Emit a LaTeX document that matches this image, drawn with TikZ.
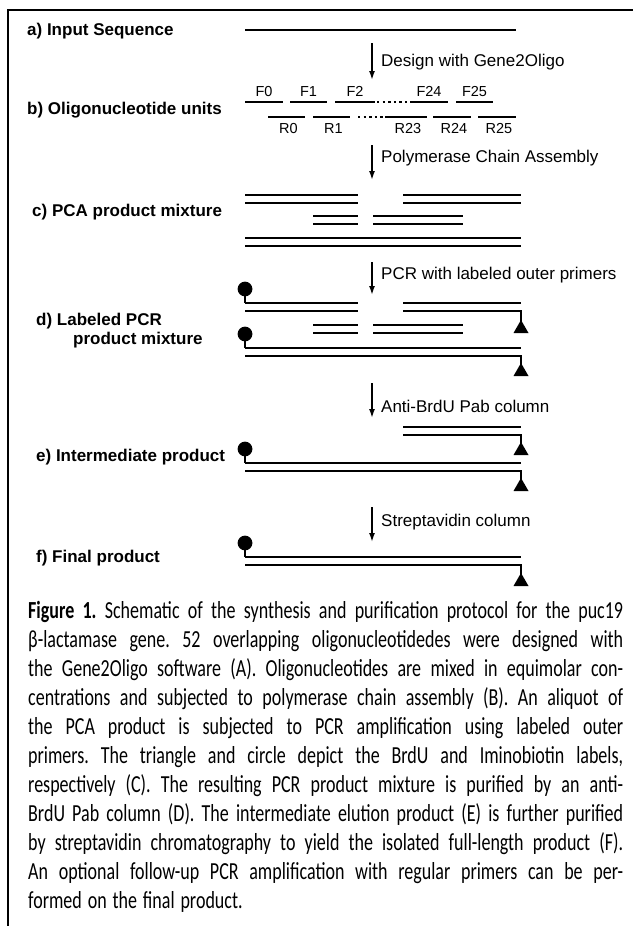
\documentclass[tikz,border=0pt]{standalone}
\usepackage{fontspec}
\setmainfont{Liberation Sans}
\newfontfamily\capfont[FakeStretch=0.735]{Carlito}
\usepackage{xcolor}
\usepackage{tikz}
\usetikzlibrary{arrows.meta,positioning,calc}
\definecolor{figInk}{HTML}{000000}
\definecolor{figPaper}{HTML}{FFFFFF}
\newcommand{\capline}[1]{\hbox to 595pt{%
  \spaceskip=0.24em plus 1.5em minus 0.08em\xspaceskip=\spaceskip #1}}
\tikzset{
  % Row label (bold, at the left)
  rowlbl/.style={anchor=west,inner sep=0pt,
    font=\fontsize{17}{19}\selectfont\bfseries,text=figInk},
  % Step label beside an arrow
  steplbl/.style={anchor=west,inner sep=0pt,
    font=\fontsize{17}{19}\selectfont,text=figInk},
  % Oligo name (F0, R0, ...)
  oligo/.style={inner sep=0pt,font=\fontsize{14.5}{16}\selectfont,text=figInk},
  % DNA strand
  strand/.style={line width=2.2pt,color=figInk},
  gapdots/.style={strand,dash pattern=on 2.4pt off 3.2pt},
  % Step arrow
  arr/.style={-{Latex[length=9pt,width=6pt]},line width=1.6pt,color=figInk},
  % Caption under the scheme
  capbox/.style={anchor=north west,inner sep=0pt,text width=595pt,
    font=\capfont\fontsize{24.5}{29}\selectfont,text=figInk},
  % End labels: circle = iminobiotin, triangle = BrdU
  biotin/.pic={\draw[strand] (0,0) -- (0,-11);
    \fill[figInk] (0,-14) circle (7.4);},
  brdu/.pic={\fill[figInk] (0,0) -- (7.5,13) -- (-7.5,13) -- cycle;},
}

\begin{document}
\begin{tikzpicture}[x=1pt,y=-1pt]
  \useasboundingbox[fill=figPaper] (0,0) rectangle (633,926);
  \draw[line width=1.3pt,figInk] (8,926) -- (8,10) -- (633,10);

  % row labels
  \node[rowlbl] (lblA) at (27,31) {a) Input Sequence};
  \node[rowlbl] (lblB) at (27,110) {b) Oligonucleotide units};
  \node[rowlbl] (lblC) at (32,212) {c) PCA product mixture};
  \node[rowlbl,align=left] (lblD) at (36,331)
    {d) Labeled PCR\\\hspace*{37pt}product mixture};
  \node[rowlbl] (lblE) at (36,457) {e) Intermediate product};
  \node[rowlbl] (lblF) at (36,558) {f) Final product};

  % step arrows
  \coordinate (s1a) at (372,43);  \coordinate (s1b) at (372,80);
  \coordinate (s2a) at (372,145); \coordinate (s2b) at (372,180);
  \coordinate (s3a) at (372,262); \coordinate (s3b) at (372,295);
  \coordinate (s4a) at (372,383); \coordinate (s4b) at (372,418);
  \coordinate (s5a) at (372,507); \coordinate (s5b) at (372,542);
  \draw[arr] (s1a) -- (s1b);
  \draw[arr] (s2a) -- (s2b);
  \draw[arr] (s3a) -- (s3b);
  \draw[arr] (s4a) -- (s4b);
  \draw[arr] (s5a) -- (s5b);
  \node[steplbl] (step1) at (381,62) {Design with Gene2Oligo};
  \node[steplbl] (step2) at (381,158) {Polymerase Chain Assembly};
  \node[steplbl] (step3) at (381,275) {PCR with labeled outer primers};
  \node[steplbl] (step4) at (381,406) {Anti-BrdU Pab column};
  \node[steplbl] (step5) at (381,522) {Streptavidin column};

  % a) input sequence
  \draw[strand] (245,30) -- (516,30);

  % b) oligonucleotide units
  \foreach \xa/\xb/\nm in {245/283/F0,290/327/F1,335/375/F2,410/448/F24,456/493/F25}
    \draw[strand] (\xa,102) -- node[oligo,above=4pt] (\nm) {\nm} (\xb,102);
  \foreach \xa/\xb/\nm in {268/305/R0,313/350/R1,385/427/R23,433/471/R24,478/516/R25}
    \draw[strand] (\xa,117) -- node[oligo,below=5pt,xshift=2pt] (\nm) {\nm} (\xb,117);
  \draw[gapdots] (377,102) -- (410,102);
  \draw[gapdots] (358,117) -- (384,117);

  % c) PCA product mixture
  \foreach \xa/\xb/\ya in {245/358/195,403/521/195,313/358/216,373/463/216,245/521/238}
    \draw[strand] (\xa,\ya) -- (\xb,\ya) (\xa,\ya+8) -- (\xb,\ya+8);

  % d) labeled PCR product mixture
  \draw[strand] (245,303) -- (358,303) (245,311) -- (358,311);
  \draw[strand] (403,303) -- (521,303) (403,311) -- (521,311) -- (521,322);
  \foreach \xa/\xb in {313/358,373/463}
    \draw[strand] (\xa,325) -- (\xb,325) (\xa,333) -- (\xb,333);
  \draw[strand] (245,348) -- (521,348) (245,356) -- (521,356) -- (521,365);
  \pic at (245,303) {biotin};
  \pic at (521,320) {brdu};
  \pic at (245,348) {biotin};
  \pic at (521,363) {brdu};

  % e) intermediate product
  \draw[strand] (403,427) -- (521,427) (403,435) -- (521,435) -- (521,444);
  \draw[strand] (245,463) -- (521,463) (245,471) -- (521,471) -- (521,480);
  \pic at (521,442) {brdu};
  \pic at (245,463) {biotin};
  \pic at (521,478) {brdu};

  % f) final product
  \draw[strand] (245,557) -- (521,557) (245,565) -- (521,565) -- (521,575);
  \pic at (245,557) {biotin};
  \pic at (521,573) {brdu};

  % caption
  \node[capbox] (caption) at (28,601) {%
    \capline{\textbf{Figure 1.} Schematic of the synthesis and purification protocol for the puc19}
    \capline{β-lactamase gene. 52 overlapping oligonucleotidedes were designed with}
    \capline{the Gene2Oligo software (A). Oligonucleotides are mixed in equimolar con-}
    \capline{centrations and subjected to polymerase chain assembly (B). An aliquot of}
    \capline{the PCA product is subjected to PCR amplification using labeled outer}
    \capline{primers. The triangle and circle depict the BrdU and Iminobiotin labels,}
    \capline{respectively (C). The resulting PCR product mixture is purified by an anti-}
    \capline{BrdU Pab column (D). The intermediate elution product (E) is further purified}
    \capline{by streptavidin chromatography to yield the isolated full-length product (F).}
    \capline{An optional follow-up PCR amplification with regular primers can be per-}
    \hbox{\spaceskip=0.24em\xspaceskip=\spaceskip formed on the final product.}};
\end{tikzpicture}
\end{document}
